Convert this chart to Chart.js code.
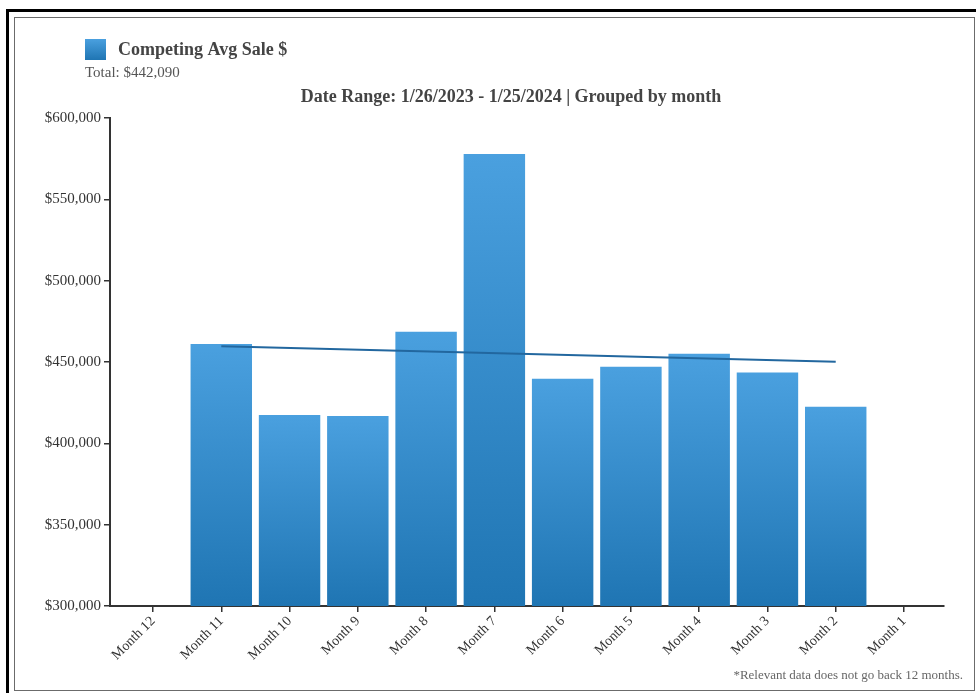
<!DOCTYPE html>
<html>
<head>
<meta charset="utf-8">
<title>Competing Avg Sale $</title>
<script src="https://cdn.jsdelivr.net/npm/chart.js@4.4.0/dist/chart.umd.min.js"></script>
<style>
  body { margin: 0; background: #fff; width: 976px; height: 693px; overflow: hidden; position: relative; }
  #outer { position: absolute; left: 6px; top: 9px; right: -10px; bottom: -10px; border-left: 3px solid #000; border-top: 3px solid #000; }
  #inner { position: absolute; left: 14px; top: 17px; width: 959px; height: 672px; border: 1px solid #6b6b6b; }
  #chart { position: absolute; left: 0; top: 0; }
</style>
</head>
<body>
<div id="outer"></div>
<div id="inner"></div>
<canvas id="chart" width="976" height="693"></canvas>
<script>
const months = ["Month 12", "Month 11", "Month 10", "Month 9", "Month 8", "Month 7",
                "Month 6", "Month 5", "Month 4", "Month 3", "Month 2", "Month 1"];
// no data before month 11, month 1 is still open
const avgSale = [null, 461100, 417400, 416800, 468600, 577900, 439700, 447100, 455100, 443600, 422500, null];
const trendEnds = [["Month 11", 459700], ["Month 2", 450100]];
const yTicks = [300000, 350000, 400000, 450000, 500000, 550000, 600000];

const seriesLabel = "Competing Avg Sale $";
const totalSale = 442090;
const titleText = "Date Range: 1/26/2023 - 1/25/2024 | Grouped by month";
const footnote = "*Relevant data does not go back 12 months.";

const serif = "'Liberation Serif', 'Times New Roman', serif";
const barTop = "#4aa0df";
const barBottom = "#1f75b3";

function money(v) {
  return "$" + v.toLocaleString("en-US");
}

function shade(ctx, top, bottom) {
  let g = ctx.createLinearGradient(0, top, 0, bottom);
  g.addColorStop(0, barTop);
  g.addColorStop(1, barBottom);
  return g;
}

let barPoints = [];
avgSale.forEach((v, i) => {
  if (v !== null) barPoints.push({ x: i, y: v });
});
let trendPoints = trendEnds.map(([m, v]) => ({ x: months.indexOf(m), y: v }));

// legend, total, title and footnote
const headerText = {
  id: "headerText",
  afterDraw(chart) {
    const ctx = chart.ctx;
    ctx.save();
    ctx.fillStyle = shade(ctx, 39, 60);
    ctx.fillRect(85, 39, 21, 21);

    ctx.textBaseline = "middle";
    ctx.fillStyle = "#444";
    ctx.font = "bold 18px " + serif;
    ctx.fillText(seriesLabel, 118, 50);

    ctx.fillStyle = "#555";
    ctx.font = "15px " + serif;
    ctx.fillText("Total: " + money(totalSale), 85, 73);

    ctx.fillStyle = "#444";
    ctx.textAlign = "center";
    ctx.font = "bold 18px " + serif;
    ctx.fillText(titleText, 511, 97);

    ctx.fillStyle = "#666";
    ctx.textAlign = "right";
    ctx.font = "13px " + serif;
    ctx.fillText(footnote, 963, 676);
    ctx.restore();
  }
};

const chart = new Chart(document.getElementById("chart"), {
  type: "bar",
  plugins: [headerText],
  data: {
    datasets: [
      {
        type: "line",
        label: "Trend",
        data: trendPoints,
        borderColor: "#22679f",
        borderWidth: 2,
        pointRadius: 0,
        fill: false,
        order: 0
      },
      {
        label: seriesLabel,
        data: barPoints,
        backgroundColor(c) {
          const y = c.chart.scales.y;
          if (!y || c.type !== "data") return barBottom;
          const top = y.getPixelForValue(c.raw.y);
          if (!isFinite(top) || !isFinite(y.bottom)) return barBottom;
          return shade(c.chart.ctx, top, y.bottom);
        },
        borderWidth: 0,
        categoryPercentage: 1,
        barPercentage: 0.9,
        order: 1
      }
    ]
  },
  options: {
    responsive: false,
    animation: false,
    devicePixelRatio: 1,
    layout: { padding: { left: 20, right: 32, top: 118, bottom: 0 } },
    plugins: {
      legend: { display: false },
      tooltip: { enabled: false }
    },
    scales: {
      x: {
        type: "linear",
        offset: false,
        min: -0.63,
        max: 11.586,
        afterBuildTicks(scale) {
          scale.ticks = months.map((m, i) => ({ value: i }));
        },
        afterFit(scale) {
          scale.height = 87;
        },
        ticks: {
          autoSkip: false,
          maxRotation: 45,
          minRotation: 45,
          padding: 1,
          color: "#333",
          font: { family: serif, size: 14 },
          callback: (v) => months[v]
        },
        grid: { offset: false, drawOnChartArea: false, drawTicks: true, tickLength: 6, color: "#333", lineWidth: 1.5 },
        border: { color: "#333", width: 2 }
      },
      y: {
        min: 300000,
        max: 600000,
        afterBuildTicks(scale) {
          scale.ticks = yTicks.map((v) => ({ value: v }));
        },
        afterFit(scale) {
          scale.width = 90;
        },
        ticks: {
          padding: 3,
          color: "#333",
          font: { family: serif, size: 15 },
          callback: (v) => money(v)
        },
        grid: { drawOnChartArea: false, drawTicks: true, tickLength: 6, color: "#333", lineWidth: 1.5 },
        border: { color: "#333", width: 2 }
      }
    }
  }
});
</script>
</body>
</html>
